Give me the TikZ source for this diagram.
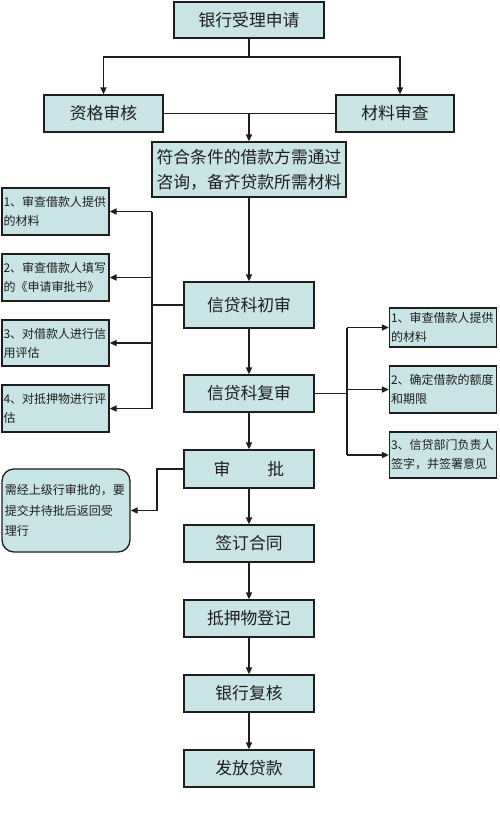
\documentclass[tikz,border=0pt]{standalone}
\usepackage{fontspec}
\setmainfont{Noto Sans CJK SC}
\usetikzlibrary{arrows.meta}
\definecolor{boxfill}{RGB}{200,228,228}
\definecolor{ink}{RGB}{30,30,30}
\begin{document}
\begin{tikzpicture}[x=1pt,y=-1pt,
  mainbox/.style={draw=ink, line width=1.3pt, fill=boxfill, text=ink,
    font=\fontsize{16.8}{25}\selectfont, inner sep=0pt,
    minimum width=130pt, minimum height=37pt},
  sidebox/.style={draw=ink, line width=1.3pt, fill=boxfill, text=ink,
    font=\fontsize{12}{19}\selectfont, align=left, text width=104pt,
    inner sep=1.5pt, minimum height=47pt},
  conn/.style={line width=1.8pt, draw=ink},
  arr/.style={conn, -{Triangle[length=7pt,width=6pt]}}]
\useasboundingbox (0,0) rectangle (500,836);
\fill[white] (0,0) rectangle (500,836);

% main column
\node[mainbox, minimum width=150pt, minimum height=36pt] (top) at (249,20) {银行受理申请};
\node[mainbox, minimum width=119pt] (zg) at (103.5,113.5) {资格审核};
\node[mainbox, minimum width=118pt] (cl) at (395,113.5) {材料审查};
\node[mainbox, minimum width=194pt, minimum height=55pt, align=center] (fh) at (249,169.5)
  {符合条件的借款方需通过\\咨询，备齐贷款所需材料};
\node[mainbox, minimum height=46pt] (cs) at (249,305) {信贷科初审};
\node[mainbox] (fs) at (249,393.5) {信贷科复审};
\node[mainbox, minimum height=38pt] (sp) at (249,469) {审\hspace{2.2em}批};
\node[mainbox] (qd) at (249,543.5) {签订合同};
\node[mainbox] (dy) at (249,618.5) {抵押物登记};
\node[mainbox] (yh) at (249,693.5) {银行复核};
\node[mainbox] (ff) at (249,768.5) {发放贷款};

% left boxes
\node[sidebox] (L1) at (55.5,211.5) {1、审查借款人提供\\的材料};
\node[sidebox] (L2) at (55.5,277.5) {2、审查借款人填写\\的《申请审批书》};
\node[sidebox, minimum height=46pt] (L3) at (55.5,343) {3、对借款人进行信\\用评估};
\node[sidebox] (L4) at (55.5,408.5) {4、对抵押物进行评\\估};

% right boxes
\node[sidebox, minimum height=39pt] (R1) at (443,327.5) {1、审查借款人提供\\的材料};
\node[sidebox] (R2) at (443,389.5) {2、确定借款的额度\\和期限};
\node[sidebox, minimum height=46pt] (R3) at (443,455) {3、信贷部门负责人\\签字，并签署意见};

% rounded box
\node[sidebox, rounded corners=12pt, text width=122pt, inner sep=3pt,
  minimum height=83pt, font=\fontsize{12}{20.5}\selectfont] (rb) at (66,510.5)
  {需经上级行审批的，要\\提交并待批后返回受\\理行};

% connectors top
\coordinate (split) at (249,57);
\draw[conn] (top.south) -- (split);
\draw[arr] (split) -| (zg.north);
\draw[arr] (split) -| ([xshift=5pt]cl.north);
\draw[conn] (zg.east) -- (cl.west);
\draw[arr] (zg.east -| fh.north) -- (fh.north);
\draw[arr] (fh.south) -- (cs.north);

% left bus
\coordinate (lb) at (152,305);
\draw[conn] (cs.west) -- (lb);
\draw[conn] (lb |- L1.east) -- (lb |- L4.east);
\foreach \n in {L1,L2,L3,L4} \draw[arr] (lb |- \n.east) -- (\n.east);

\draw[arr] (cs.south) -- (fs.north);

% right bus
\coordinate (rbus) at (347,393.5);
\draw[conn] (fs.east) -- (rbus);
\draw[conn] (rbus |- R1.west) -- (rbus |- R3.west);
\foreach \n in {R1,R2,R3} \draw[arr] (rbus |- \n.west) -- (\n.west);

\draw[arr] (fs.south) -- (sp.north);

% approval branch
\coordinate (sb) at (157,469);
\draw[arr] (sp.west) -- (sb) |- (rb.east);

\draw[arr] (sp.south) -- (qd.north);
\draw[arr] (qd.south) -- (dy.north);
\draw[arr] (dy.south) -- (yh.north);
\draw[arr] (yh.south) -- (ff.north);
\end{tikzpicture}
\end{document}
